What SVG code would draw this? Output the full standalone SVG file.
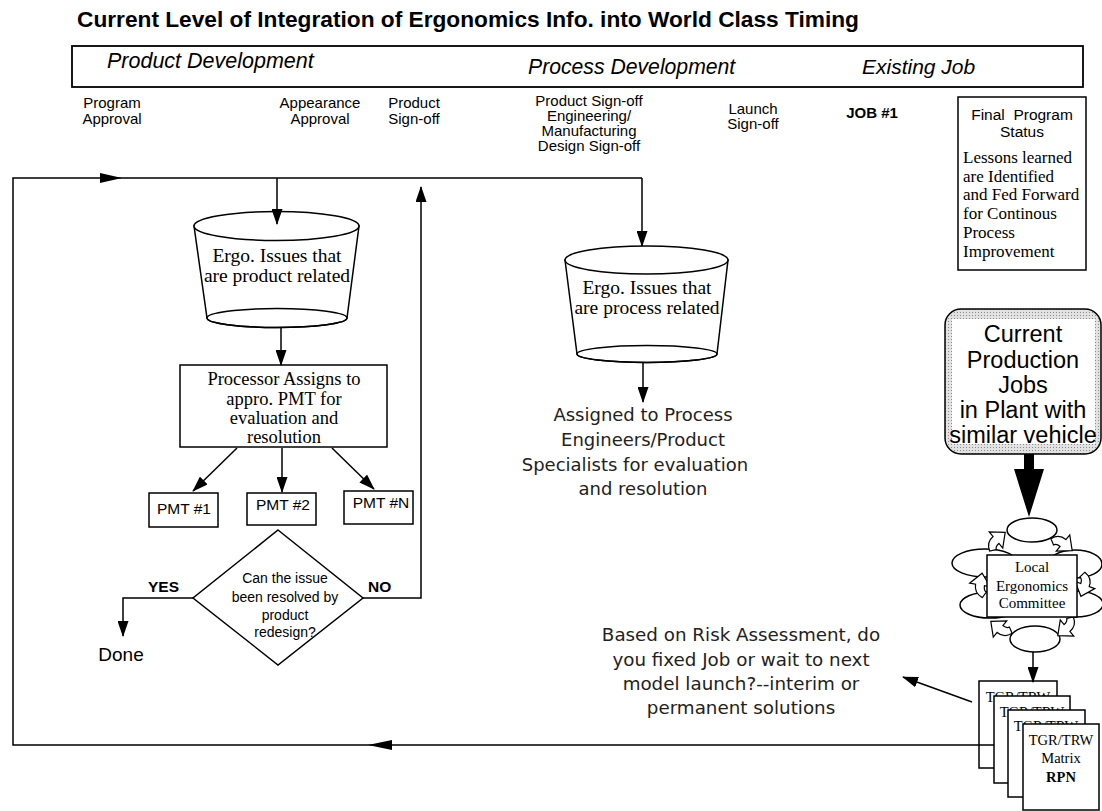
<svg xmlns="http://www.w3.org/2000/svg" width="1102" height="811" viewBox="0 0 1102 811">
<style>
.sans{font-family:"Liberation Sans",Arial,sans-serif}
.serif{font-family:"Liberation Serif","Times New Roman",serif}
.goth{font-family:"DejaVu Sans","Liberation Sans",sans-serif;fill:#222}
.c{text-anchor:middle}
.b{font-weight:bold}
.i{font-style:italic}
.shape{fill:#fff;stroke:#000;stroke-width:1.5}
.wire{fill:none;stroke:#000;stroke-width:1.5}
.arrow{fill:none;stroke:#000;stroke-width:1.5;marker-end:url(#ah)}
.head{fill:#000}
</style>
<defs>
  <marker id="ah" viewBox="0 0 16 11" refX="15" refY="5.5" markerWidth="16" markerHeight="11" markerUnits="userSpaceOnUse" orient="auto">
    <path d="M0,0 L16,5.5 L0,11 Z" fill="#000"/>
  </marker>
  <pattern id="stipple" width="3" height="3" patternUnits="userSpaceOnUse">
    <rect width="3" height="3" fill="#e2e2e2"/>
    <rect width="1" height="1" fill="#8a8a8a"/>
  </pattern>
  <!-- curved hollow arrow used around the committee cycle -->
  <path id="cyc" d="M-8,3 Q-6,-3 0,-3 L0,-7 L8,0 L0,7 L0,3 Q-3,3 -4,5 Z" fill="#fff" stroke="#000" stroke-width="0.8"/>
</defs>

<rect width="1102" height="811" fill="#fff"/>

<!-- title -->
<text id="title" x="77" y="27" class="sans b" font-size="22.7">Current Level of Integration of Ergonomics Info. into World Class Timing</text>

<!-- phase header -->
<g id="phase-header">
  <rect x="72" y="46" width="1011" height="41" fill="#fff" stroke="#000" stroke-width="1.8"/>
  <text x="107" y="68" class="sans i" font-size="21.5">Product Development</text>
  <text x="528" y="74" class="sans i" font-size="21.2">Process Development</text>
  <text x="862" y="74" class="sans i" font-size="21">Existing Job</text>
</g>

<!-- milestones -->
<g id="milestones" class="sans" font-size="15">
  <text class="c" x="112" y="108">Program</text>
  <text class="c" x="112" y="124">Approval</text>
  <text class="c" x="320" y="108">Appearance</text>
  <text class="c" x="320" y="124">Approval</text>
  <text class="c" x="414" y="108">Product</text>
  <text class="c" x="414" y="124">Sign-off</text>
  <text class="c" x="589" y="106">Product Sign-off</text>
  <text class="c" x="589" y="121">Engineering/</text>
  <text class="c" x="589" y="136">Manufacturing</text>
  <text class="c" x="589" y="151">Design Sign-off</text>
  <text class="c" x="753" y="114">Launch</text>
  <text class="c" x="753" y="129">Sign-off</text>
  <text class="c b" x="872" y="118">JOB #1</text>
</g>

<!-- final program status -->
<g id="final-status">
  <rect x="958" y="97" width="128" height="173" class="shape"/>
  <text class="sans c" x="1022" y="120" font-size="15.5" xml:space="preserve">Final  Program</text>
  <text class="sans c" x="1022" y="137" font-size="15.5">Status</text>
  <g class="serif" font-size="17">
    <text x="963" y="163">Lessons learned</text>
    <text x="963" y="182">are Identified</text>
    <text x="963" y="200">and Fed Forward</text>
    <text x="963" y="219">for Continous</text>
    <text x="963" y="238">Process</text>
    <text x="963" y="257">Improvement</text>
  </g>
</g>

<!-- product related issues -->
<g id="product-issues">
  <path class="shape" d="M194,226 L207,318 A70,9.5 0 0 0 347,318 L359,226 Z"/>
  <ellipse cx="276.5" cy="226" rx="82.5" ry="14.5" class="shape"/>
  <ellipse cx="277" cy="318" rx="70" ry="9.5" class="wire"/>
  <text class="serif c" x="277" y="262" font-size="19.5">Ergo. Issues that</text>
  <text class="serif c" x="277" y="282" font-size="19.5">are product related</text>
</g>

<!-- process related issues -->
<g id="process-issues">
  <path class="shape" d="M565,260 L577,354 A70,8.5 0 0 0 717,354 L728,260 Z"/>
  <ellipse cx="646.5" cy="260" rx="81.5" ry="14" class="shape"/>
  <ellipse cx="647" cy="354" rx="70" ry="8.5" class="wire"/>
  <text class="serif c" x="647" y="294" font-size="19.5">Ergo. Issues that</text>
  <text class="serif c" x="647" y="314" font-size="19.5">are process related</text>
</g>

<!-- processor assignment -->
<g id="processor">
  <rect x="180" y="365" width="207" height="82" class="shape"/>
  <g class="serif c" font-size="18.5">
    <text x="284" y="385">Processor Assigns to</text>
    <text x="284" y="405">appro. PMT for</text>
    <text x="284" y="424">evaluation and</text>
    <text x="284" y="443">resolution</text>
  </g>
</g>

<g id="pmt1">
  <rect x="149" y="493" width="69" height="34" class="shape"/>
  <text class="sans c" x="184" y="514" font-size="15.5">PMT #1</text>
</g>
<g id="pmt2">
  <rect x="247" y="493" width="69" height="32" class="shape"/>
  <text class="sans c" x="283" y="510" font-size="15.5">PMT #2</text>
</g>
<g id="pmtN">
  <rect x="344" y="491" width="69" height="33" class="shape"/>
  <text class="sans c" x="381" y="508" font-size="15.5">PMT #N</text>
</g>

<!-- decision -->
<g id="decision">
  <polygon points="278,530 363,598 278,665 193,598" class="shape"/>
  <g class="sans c" font-size="14">
    <text x="285" y="583">Can the issue</text>
    <text x="285" y="602">been resolved by</text>
    <text x="285" y="620">product</text>
    <text x="285" y="637">redesign?</text>
  </g>
  <text class="sans b" x="148" y="592" font-size="15.5">YES</text>
  <text class="sans b" x="368" y="592" font-size="15.5">NO</text>
</g>

<g id="done">
  <text class="sans c" x="121" y="661" font-size="19">Done</text>
</g>

<!-- process engineers -->
<g id="assigned" class="goth c" font-size="18">
  <text x="643" y="421">Assigned to Process</text>
  <text x="643" y="446">Engineers/Product</text>
  <text x="635" y="471">Specialists for evaluation</text>
  <text x="643" y="495">and resolution</text>
</g>

<!-- risk assessment note -->
<g id="risk-note" class="goth c" font-size="18.3">
  <text x="741" y="641">Based on Risk Assessment, do</text>
  <text x="741" y="666">you fixed Job or wait to next</text>
  <text x="741" y="690">model launch?--interim or</text>
  <text x="741" y="714">permanent solutions</text>
</g>

<!-- current production jobs -->
<g id="current-jobs">
  <rect x="945" y="309" width="156" height="145" rx="16" fill="url(#stipple)" stroke="#000" stroke-width="1.5"/>
  <rect x="952" y="319" width="143" height="125" fill="#fff"/>
  <g class="sans c" font-size="23.5">
    <text x="1023" y="342">Current</text>
    <text x="1023" y="368">Production</text>
    <text x="1023" y="393">Jobs</text>
    <text x="1023" y="418">in Plant with</text>
    <text x="1023" y="443">similar vehicle</text>
  </g>
</g>

<!-- local ergonomics committee cycle -->
<g id="committee">
  <ellipse cx="1032" cy="530" rx="25" ry="12" class="shape"/>
  <ellipse cx="985" cy="563" rx="33" ry="14" class="shape"/>
  <ellipse cx="1075" cy="564" rx="27" ry="14" class="shape"/>
  <ellipse cx="990" cy="605" rx="30" ry="13" class="shape"/>
  <ellipse cx="1076" cy="604" rx="27" ry="13" class="shape"/>
  <ellipse cx="1035" cy="639" rx="25" ry="13" class="shape"/>
  <use href="#cyc" transform="translate(996,540) rotate(-40) scale(1.5)"/>
  <use href="#cyc" transform="translate(1063,543) rotate(40) scale(1.5)"/>
  <use href="#cyc" transform="translate(1085,585) rotate(110) scale(1.5)"/>
  <use href="#cyc" transform="translate(1067,628) rotate(140) scale(1.5)"/>
  <use href="#cyc" transform="translate(1000,629) rotate(-140) scale(1.5)"/>
  <use href="#cyc" transform="translate(980,585) rotate(-80) scale(1.5)"/>
  <rect x="987" y="555" width="90" height="62" class="shape"/>
  <g class="serif c" font-size="15">
    <text x="1032" y="572">Local</text>
    <text x="1032" y="591">Ergonomics</text>
    <text x="1032" y="608">Committee</text>
  </g>
</g>

<!-- first matrix card sits under the return line -->
<g id="matrix-1">
  <rect x="979" y="681" width="78" height="87" class="shape"/>
  <text class="serif c" x="1018" y="702" font-size="14.5">TGR/TRW</text>
</g>

<!-- connectors -->
<g id="connectors">
  <polyline class="wire" points="994,745 13,745 13,178 642,178"/>
  <line class="arrow" x1="642" y1="178" x2="642" y2="246"/>
  <polygon class="head" points="100,173 122,178 100,183"/>
  <polygon class="head" points="368,745 392,740 392,750"/>
  <line class="arrow" x1="277" y1="178" x2="277" y2="224"/>
  <line class="arrow" x1="281" y1="328" x2="281" y2="365"/>
  <line class="arrow" x1="237" y1="448" x2="193" y2="491"/>
  <line class="arrow" x1="282" y1="448" x2="282" y2="492"/>
  <line class="arrow" x1="332" y1="448" x2="374" y2="489"/>
  <polyline class="arrow" points="193,598 123,598 123,636"/>
  <polyline class="arrow" points="363,598 421,598 421,187"/>
  <line class="arrow" x1="643" y1="362" x2="643" y2="402"/>
  <polygon class="head" points="1024,454 1034,454 1034,469 1044,469 1029,517 1014,469 1024,469"/>
  <line class="arrow" x1="1033" y1="652" x2="1033" y2="682"/>
  <line class="arrow" x1="972" y1="702" x2="903" y2="677"/>
</g>

<g id="matrix-2">
  <rect x="994" y="696" width="76" height="87" class="shape"/>
  <text class="serif c" x="1032" y="717" font-size="14.5">TGR/TRW</text>
</g>
<g id="matrix-3">
  <rect x="1008" y="710" width="77" height="87" class="shape"/>
  <text class="serif c" x="1046" y="731" font-size="14.5">TGR/TRW</text>
</g>
<g id="matrix-4">
  <rect x="1023" y="724" width="76" height="86" class="shape"/>
  <g class="serif c" font-size="14.5">
    <text x="1061" y="745">TGR/TRW</text>
    <text x="1061" y="763">Matrix</text>
    <text x="1061" y="782" class="b">RPN</text>
  </g>
</g>
</svg>
